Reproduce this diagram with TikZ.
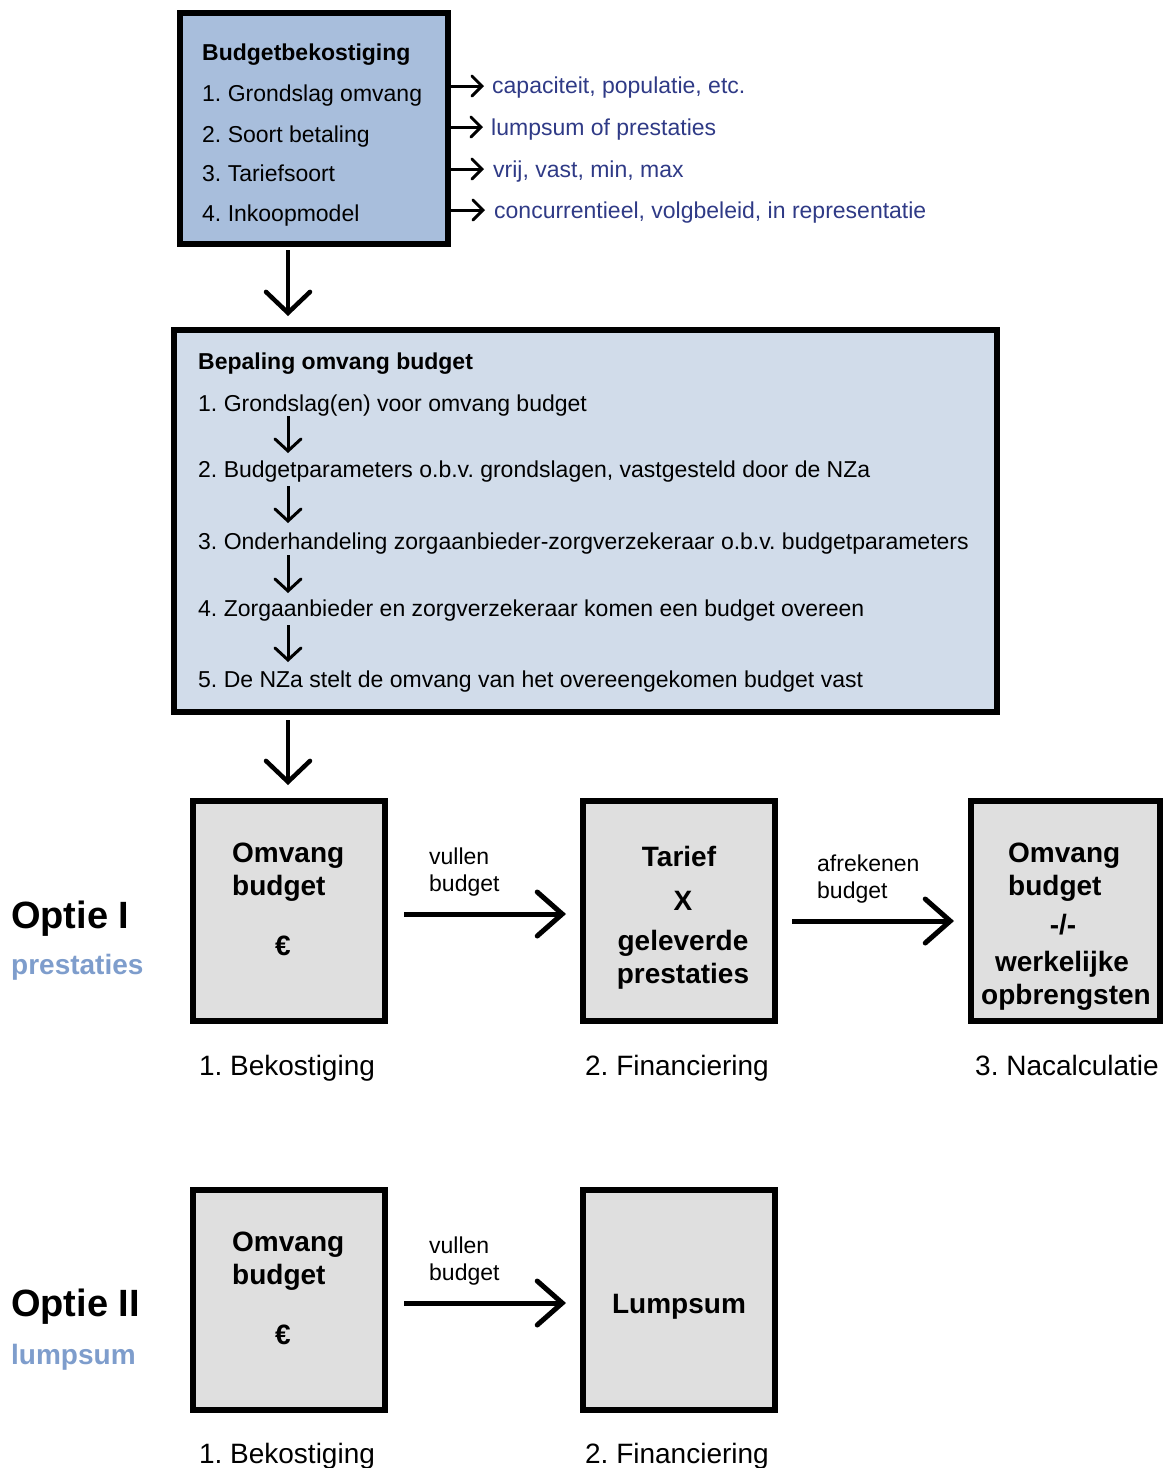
\documentclass[tikz,border=0pt]{standalone}
\usepackage{fontspec}
\setmainfont{Liberation Sans}
\usetikzlibrary{arrows.meta}
\frenchspacing
\definecolor{topfill}{HTML}{A8BEDC}
\definecolor{midfill}{HTML}{D1DCEA}
\definecolor{grayfill}{HTML}{DFDFDF}
\definecolor{navy}{HTML}{2F3A86}
\definecolor{lightblue}{HTML}{7E9DCC}
\tikzset{
  box/.style={draw=black, line width=6pt, inner sep=0pt, outer sep=0pt},
  txt/.style={anchor=base west, inner sep=0pt, font=\fontsize{23}{27}\selectfont},
  btxt/.style={anchor=base west, inner sep=0pt, font=\fontsize{23}{27}\selectfont\bfseries},
  ctr/.style={anchor=base, inner sep=0pt, font=\fontsize{28}{33}\selectfont\bfseries},
  lbl/.style={anchor=base, inner sep=0pt, font=\fontsize{28}{33}\selectfont},
  side/.style={anchor=base west, inner sep=0pt, font=\fontsize{23}{27}\selectfont, text=navy},
  small/.style={anchor=base west, inner sep=0pt, font=\fontsize{23}{27}\selectfont},
  optie/.style={anchor=base west, inner sep=0pt, font=\fontsize{38}{44}\selectfont\bfseries},
  optsub/.style={anchor=base west, inner sep=0pt, font=\fontsize{28}{33}\selectfont\bfseries, text=lightblue},
  sarr/.style={line width=3pt, -{Straight Barb[length=10pt,width=20pt,line width=3pt,line cap=round]}},
  marr/.style={line width=3pt, -{Straight Barb[length=12pt,width=26pt,line width=3pt,line cap=round]}},
  barr/.style={line width=4.5pt, -{Straight Barb[length=21pt,width=44pt,line width=4.5pt,line cap=round]}},
  harr/.style={line width=5pt, -{Straight Barb[length=25pt,width=44pt,line width=5pt,line cap=round]}},
}
\begin{document}
\begin{tikzpicture}[x=1pt,y=-1pt]
\useasboundingbox (0,0) rectangle (1163,1468);

% top box
\node[box, fill=topfill, minimum width=268pt, minimum height=231pt] (top) at (314,128.5) {};
\node[btxt] (t0) at (202,60) {Budgetbekostiging};
\node[txt] (t1) at (202,101) {1. Grondslag omvang};
\node[txt] (t2) at (202,142) {2. Soort betaling};
\node[txt] (t3) at (202,181) {3. Tariefsoort};
\node[txt] (t4) at (202,221) {4. Inkoopmodel};

\node[side] (s1) at (492,93) {capaciteit, populatie, etc.};
\node[side] (s2) at (491,135) {lumpsum of prestaties};
\node[side] (s3) at (493,177) {vrij, vast, min, max};
\node[side] (s4) at (494,218) {concurrentieel, volgbeleid, in representatie};

\coordinate (a1s) at (451,86);  \coordinate (a1e) at (484,86);
\coordinate (a2s) at (451,127); \coordinate (a2e) at (483,127);
\coordinate (a3s) at (451,169); \coordinate (a3e) at (484,169);
\coordinate (a4s) at (451,210); \coordinate (a4e) at (485,210);
\draw[sarr] (a1s) -- (a1e);
\draw[sarr] (a2s) -- (a2e);
\draw[sarr] (a3s) -- (a3e);
\draw[sarr] (a4s) -- (a4e);

% down arrow 1
\coordinate (d1s) at (288,250); \coordinate (d1e) at (288,316);
\draw[barr] (d1s) -- (d1e);

% middle box
\node[box, fill=midfill, minimum width=823pt, minimum height=382pt] (mid) at (585.5,521) {};
\node[btxt] (m0) at (198,369) {Bepaling omvang budget};
\node[txt] (m1) at (198,411) {1. Grondslag(en) voor omvang budget};
\node[txt] (m2) at (198,477) {2. Budgetparameters o.b.v. grondslagen, vastgesteld door de NZa};
\node[txt] (m3) at (198,549) {3. Onderhandeling zorgaanbieder-zorgverzekeraar o.b.v. budgetparameters};
\node[txt] (m4) at (198,616) {4. Zorgaanbieder en zorgverzekeraar komen een budget overeen};
\node[txt] (m5) at (198,687) {5. De NZa stelt de omvang van het overeengekomen budget vast};

\coordinate (i1s) at (288,416); \coordinate (i1e) at (288,453);
\coordinate (i2s) at (288,486); \coordinate (i2e) at (288,523);
\coordinate (i3s) at (288,555); \coordinate (i3e) at (288,593);
\coordinate (i4s) at (288,625); \coordinate (i4e) at (288,662);
\draw[marr] (i1s) -- (i1e);
\draw[marr] (i2s) -- (i2e);
\draw[marr] (i3s) -- (i3e);
\draw[marr] (i4s) -- (i4e);

% down arrow 2
\coordinate (d2s) at (288,720); \coordinate (d2e) at (288,785);
\draw[barr] (d2s) -- (d2e);

% Optie I
\node[optie] (o1) at (11,928) {Optie I};
\node[optsub] (o1s) at (11,974) {prestaties};

\node[box, fill=grayfill, minimum width=192pt, minimum height=220pt] (b1) at (289,911) {};
\node[ctr, anchor=base west] (b1a) at (232,862) {Omvang};
\node[ctr, anchor=base west] (b1b) at (232,895) {budget};
\node[ctr] (b1c) at (283,955) {€};

\node[box, fill=grayfill, minimum width=192pt, minimum height=220pt] (b2) at (679,911) {};
\node[ctr] (b2a) at (679,866) {Tarief};
\node[ctr] (b2b) at (683,910) {X};
\node[ctr] (b2c) at (683,950) {geleverde};
\node[ctr] (b2d) at (683,983) {prestaties};

\node[box, fill=grayfill, minimum width=189pt, minimum height=220pt] (b3) at (1065.5,911) {};
\node[ctr, anchor=base west] (b3a) at (1008,862) {Omvang};
\node[ctr, anchor=base west] (b3b) at (1008,895) {budget};
\node[ctr] (b3c) at (1063,934) {-/-};
\node[ctr] (b3d) at (1062,971) {werkelijke};
\node[ctr] (b3e) at (1066,1004) {opbrengsten};

\node[small] (v1) at (429,864) {vullen};
\node[small] (v2) at (429,891) {budget};
\node[small] (f1) at (817,871) {afrekenen};
\node[small] (f2) at (817,898) {budget};

\coordinate (h1s) at (404,914); \coordinate (h1e) at (566,914);
\coordinate (h2s) at (792,921); \coordinate (h2e) at (954,921);
\draw[harr] (h1s) -- (h1e);
\draw[harr] (h2s) -- (h2e);

\node[lbl] (l1) at (287,1075) {1. Bekostiging};
\node[lbl] (l2) at (677,1075) {2. Financiering};
\node[lbl] (l3) at (1067,1075) {3. Nacalculatie};

% Optie II
\node[optie] (o2) at (11,1316) {Optie II};
\node[optsub] (o2s) at (11,1364) {lumpsum};

\node[box, fill=grayfill, minimum width=192pt, minimum height=220pt] (c1) at (289,1300) {};
\node[ctr, anchor=base west] (c1a) at (232,1251) {Omvang};
\node[ctr, anchor=base west] (c1b) at (232,1284) {budget};
\node[ctr] (c1c) at (283,1344) {€};

\node[box, fill=grayfill, minimum width=192pt, minimum height=220pt] (c2) at (679,1300) {};
\node[ctr] (c2a) at (679,1313) {Lumpsum};

\node[small] (w1) at (429,1253) {vullen};
\node[small] (w2) at (429,1280) {budget};
\coordinate (h3s) at (404,1303); \coordinate (h3e) at (566,1303);
\draw[harr] (h3s) -- (h3e);

\node[lbl] (k1) at (287,1463) {1. Bekostiging};
\node[lbl] (k2) at (677,1463) {2. Financiering};
\end{tikzpicture}
\end{document}
